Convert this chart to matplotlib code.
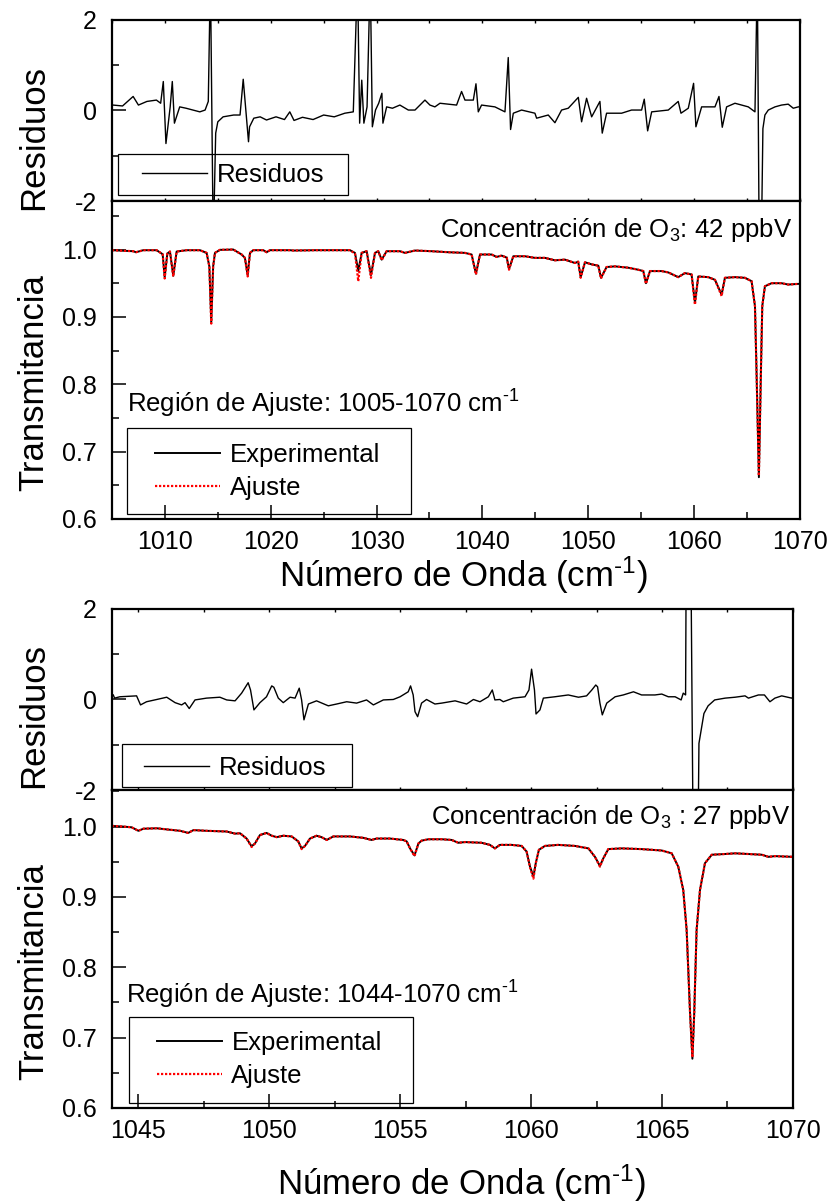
import matplotlib.pyplot as plt
from matplotlib.ticker import MultipleLocator, FormatStrFormatter
from matplotlib.patches import Rectangle
from matplotlib.lines import Line2D

plt.rcParams['font.family'] = ['Liberation Sans', 'DejaVu Sans']
plt.rcParams['mathtext.fontset'] = 'custom'
plt.rcParams['mathtext.rm'] = 'Liberation Sans'
plt.rcParams['mathtext.it'] = 'Liberation Sans:italic'
plt.rcParams['axes.unicode_minus'] = False

# ---- upper figure: fit region 1005-1070 cm-1 ----
top_wn = [1005.0, 1007.0, 1007.27, 1007.96, 1009.22, 1009.79, 1009.98, 1010.23, 1010.48, 1010.79,
          1011.11, 1012.05, 1013.31, 1013.94, 1014.2, 1014.38, 1014.56, 1014.73, 1015.2, 1016.46,
          1017.25, 1017.56, 1017.82, 1018.04, 1018.35, 1019.3, 1019.61, 1019.93, 1021.82, 1022.13,
          1024.34, 1025.91, 1027.48, 1027.96, 1028.27, 1028.59, 1029.06, 1029.47, 1029.85, 1030.16,
          1030.48, 1030.95, 1032.21, 1032.68, 1033.63, 1035.2, 1036.77, 1038.35, 1038.98, 1039.39,
          1039.77, 1040.87, 1041.34, 1041.81, 1042.3, 1042.51, 1042.92, 1044.02, 1044.96, 1045.91,
          1046.85, 1047.8, 1048.74, 1049.05, 1049.28, 1049.69, 1050.32, 1050.95, 1051.2, 1051.73,
          1052.52, 1053.78, 1054.72, 1055.2, 1055.45, 1055.83, 1056.93, 1057.56, 1058.5, 1059.13,
          1059.76, 1060.08, 1060.39, 1061.34, 1061.97, 1062.6, 1062.91, 1063.86, 1064.8, 1065.43,
          1065.75, 1065.9, 1066.12, 1066.31, 1066.44, 1066.69, 1067.32, 1068.26, 1068.89, 1069.84,
          1070.0]
top_exp = [0.999, 0.9975, 0.996, 0.999, 0.999, 0.993, 0.959, 0.994, 0.997, 0.961,
           0.997, 0.999, 0.999, 0.995, 0.975, 0.892, 0.975, 0.995, 0.9995, 1.0,
           0.9926, 0.9876, 0.962, 0.995, 0.999, 0.999, 0.996, 0.999, 0.999, 0.9985,
           0.999, 0.999, 0.999, 0.995, 0.968, 0.995, 0.9975, 0.962, 0.995, 0.9975,
           0.985, 0.9975, 0.9975, 0.995, 0.9985, 0.9975, 0.996, 0.995, 0.9926, 0.964,
           0.9926, 0.9926, 0.989, 0.991, 0.988, 0.971, 0.99, 0.99, 0.9876, 0.9876,
           0.984, 0.985, 0.98, 0.982, 0.959, 0.981, 0.978, 0.976, 0.958, 0.974,
           0.975, 0.973, 0.97, 0.968, 0.95, 0.968, 0.968, 0.966, 0.959, 0.965,
           0.963, 0.921, 0.96, 0.959, 0.955, 0.933, 0.958, 0.959, 0.958, 0.953,
           0.916, 0.817, 0.662, 0.817, 0.916, 0.9455, 0.95, 0.95, 0.948, 0.949,
           0.949]
top_fit = [0.999, 0.9975, 0.996, 0.999, 0.999, 0.993, 0.957, 0.994, 0.997, 0.960,
           0.997, 0.999, 0.999, 0.995, 0.975, 0.890, 0.975, 0.995, 0.9995, 1.0,
           0.9926, 0.9876, 0.960, 0.995, 0.999, 0.999, 0.996, 0.999, 0.999, 0.9985,
           0.999, 0.999, 0.999, 0.994, 0.953, 0.995, 0.9975, 0.958, 0.995, 0.9975,
           0.984, 0.9975, 0.9975, 0.995, 0.9985, 0.9975, 0.996, 0.995, 0.9926, 0.963,
           0.9926, 0.9926, 0.989, 0.991, 0.988, 0.970, 0.99, 0.99, 0.9876, 0.9876,
           0.984, 0.985, 0.98, 0.982, 0.958, 0.981, 0.978, 0.976, 0.957, 0.974,
           0.975, 0.973, 0.97, 0.968, 0.949, 0.968, 0.968, 0.966, 0.959, 0.965,
           0.963, 0.918, 0.96, 0.959, 0.955, 0.931, 0.958, 0.959, 0.958, 0.953,
           0.916, 0.817, 0.664, 0.817, 0.916, 0.9455, 0.95, 0.95, 0.948, 0.949,
           0.949]

top_res_wn = [1005.1, 1006.0, 1007.0, 1007.5, 1008.3, 1009.2, 1009.6, 1009.85, 1010.1, 1010.5,
              1010.7, 1010.9, 1011.4, 1012.0, 1013.3, 1013.8, 1014.1, 1014.3, 1014.57, 1014.8,
              1015.0, 1015.5, 1016.5, 1017.1, 1017.4, 1017.9, 1018.0, 1018.4, 1019.0, 1019.6,
              1020.5, 1021.3, 1021.8, 1022.2, 1023.0, 1024.0, 1025.0, 1026.0, 1027.0, 1027.8,
              1028.2, 1028.4, 1028.6, 1028.8, 1029.1, 1029.4, 1029.6, 1029.9, 1030.2, 1030.5,
              1030.6, 1030.95, 1031.5, 1032.2, 1033.0, 1033.63, 1034.57, 1035.04, 1035.51, 1035.99,
              1036.77, 1037.56, 1038.03, 1038.35, 1039.14, 1039.39, 1039.61, 1039.92, 1041.18, 1042.13,
              1042.44, 1042.66, 1042.92, 1043.7, 1044.96, 1045.12, 1046.22, 1046.85, 1047.48, 1048.11,
              1049.06, 1049.37, 1049.84, 1050.32, 1051.1, 1051.32, 1051.73, 1053.15, 1054.09, 1055.04,
              1055.29, 1055.61, 1055.99, 1057.56, 1058.5, 1058.76, 1059.45, 1059.95, 1060.17, 1060.71,
              1061.97, 1062.35, 1062.66, 1063.07, 1063.86, 1065.12, 1065.75, 1065.97, 1066.15, 1066.35,
              1066.5, 1066.69, 1067.01, 1067.64, 1068.26, 1068.89, 1069.37, 1069.84, 1070.0]
top_res = [0.12, 0.10, 0.31, 0.12, 0.20, 0.23, 0.16, 0.64, -0.73, 0.08,
           0.64, -0.28, 0.08, 0.05, -0.03, 0.01, 0.20, 3.0, -3.0, -0.5,
           -0.25, -0.14, -0.10, -0.10, 0.69, -0.69, -0.36, -0.17, -0.14, -0.21,
           -0.14, -0.20, -0.03, -0.22, -0.15, -0.20, -0.10, -0.14, -0.06, -0.03,
           3.0, -0.28, 0.67, -0.28, 0.08, 3.0, -0.36, 0.01, 0.16, 0.38,
           -0.28, 0.08, 0.05, 0.12, 0.01, 0.01, 0.23, 0.12, 0.08, 0.16,
           0.14, 0.12, 0.42, 0.23, 0.23, 0.59, -0.03, 0.12, 0.08, -0.03,
           1.17, -0.42, -0.06, 0.01, -0.06, -0.17, -0.10, -0.27, 0.01, 0.05,
           0.29, -0.25, 0.27, -0.14, 0.20, -0.50, -0.06, -0.06, 0.01, 0.01,
           0.25, -0.45, -0.03, 0.01, 0.20, -0.06, 0.05, 0.60, -0.36, 0.08,
           0.08, 0.31, -0.37, 0.08, 0.16, 0.08, -0.03, 3.0, -3.0, -3.0,
           -0.40, -0.10, 0.01, 0.08, 0.12, 0.14, 0.05, 0.08, 0.08]

# ---- lower figure: fit region 1044-1070 cm-1 ----
bot_wn = [1044.0, 1044.43, 1044.75, 1045.01, 1045.2, 1045.71, 1046.09, 1046.6, 1046.91, 1047.11,
          1047.61, 1048.38, 1048.7, 1048.89, 1049.14, 1049.33, 1049.46, 1049.65, 1049.9, 1050.1,
          1050.29, 1050.54, 1050.86, 1051.11, 1051.24, 1051.37, 1051.56, 1051.81, 1052.0, 1052.2,
          1052.45, 1053.09, 1053.6, 1053.91, 1054.1, 1054.61, 1055.12, 1055.25, 1055.38, 1055.55,
          1055.7, 1055.82, 1056.08, 1056.59, 1056.97, 1057.22, 1057.48, 1058.11, 1058.43, 1058.62,
          1058.81, 1059.26, 1059.64, 1059.83, 1059.96, 1060.09, 1060.18, 1060.3, 1060.53, 1061.04,
          1061.68, 1062.19, 1062.44, 1062.63, 1062.76, 1062.95, 1063.46, 1064.22, 1064.99, 1065.37,
          1065.62, 1065.81, 1065.94, 1066.07, 1066.16, 1066.23, 1066.32, 1066.45, 1066.64, 1066.9,
          1067.4, 1067.79, 1068.3, 1068.81, 1069.06, 1069.31, 1069.99]
bot_exp = [1.001, 1.0, 0.999, 0.994, 0.997, 0.9976, 0.996, 0.994, 0.991, 0.995,
           0.994, 0.993, 0.990, 0.9905, 0.983, 0.972, 0.976, 0.988, 0.991, 0.987,
           0.985, 0.987, 0.986, 0.979, 0.969, 0.9725, 0.983, 0.987, 0.985, 0.981,
           0.986, 0.986, 0.984, 0.981, 0.983, 0.983, 0.981, 0.979, 0.969, 0.959,
           0.976, 0.980, 0.982, 0.982, 0.981, 0.977, 0.978, 0.977, 0.974, 0.969,
           0.974, 0.974, 0.9725, 0.9645, 0.943, 0.929, 0.948, 0.967, 0.9725, 0.974,
           0.9725, 0.969, 0.957, 0.944, 0.955, 0.968, 0.969, 0.968, 0.966, 0.962,
           0.943, 0.910, 0.853, 0.735, 0.670, 0.735, 0.853, 0.910, 0.948, 0.960,
           0.961, 0.962, 0.961, 0.960, 0.957, 0.958, 0.957]
bot_fit = [1.001, 1.0, 0.999, 0.994, 0.997, 0.9976, 0.996, 0.994, 0.991, 0.995,
           0.994, 0.993, 0.990, 0.9905, 0.983, 0.971, 0.976, 0.988, 0.991, 0.987,
           0.985, 0.987, 0.986, 0.979, 0.968, 0.9725, 0.983, 0.987, 0.985, 0.981,
           0.986, 0.986, 0.984, 0.981, 0.983, 0.983, 0.981, 0.979, 0.969, 0.958,
           0.976, 0.980, 0.982, 0.982, 0.981, 0.977, 0.978, 0.977, 0.974, 0.969,
           0.974, 0.974, 0.9725, 0.9645, 0.942, 0.926, 0.948, 0.967, 0.9725, 0.974,
           0.9725, 0.969, 0.957, 0.943, 0.955, 0.968, 0.969, 0.968, 0.966, 0.962,
           0.943, 0.910, 0.853, 0.735, 0.672, 0.735, 0.853, 0.910, 0.948, 0.960,
           0.961, 0.962, 0.961, 0.960, 0.957, 0.958, 0.957]

bot_res_wn = [1044.05, 1044.1, 1044.3, 1044.94, 1045.09, 1045.32, 1045.71, 1046.09, 1046.41, 1046.66,
              1046.79, 1046.95, 1047.17, 1047.61, 1048.12, 1048.38, 1048.7, 1048.95, 1049.2, 1049.29,
              1049.42, 1049.65, 1049.9, 1050.1, 1050.18, 1050.35, 1050.54, 1050.8, 1050.99, 1051.15,
              1051.24, 1051.33, 1051.5, 1051.81, 1052.26, 1052.58, 1052.96, 1053.34, 1053.72, 1053.98,
              1054.36, 1054.74, 1055.0, 1055.31, 1055.4, 1055.5, 1055.57, 1055.67, 1055.82, 1056.01,
              1056.33, 1056.59, 1057.1, 1057.54, 1057.8, 1058.05, 1058.37, 1058.52, 1058.62, 1058.81,
              1058.94, 1059.32, 1059.77, 1059.92, 1060.02, 1060.13, 1060.19, 1060.34, 1060.47, 1060.91,
              1061.42, 1061.81, 1062.12, 1062.32, 1062.47, 1062.54, 1062.63, 1062.72, 1062.89, 1063.21,
              1063.52, 1063.91, 1064.22, 1064.73, 1064.99, 1065.24, 1065.5, 1065.73, 1065.81, 1065.9,
              1065.93, 1066.09, 1066.2, 1066.36, 1066.41, 1066.6, 1066.76, 1067.01, 1067.41, 1067.79,
              1068.17, 1068.3, 1068.68, 1068.91, 1069.12, 1069.31, 1069.57, 1069.95, 1070.0]
bot_res = [0.10, 0.03, 0.06, 0.08, -0.12, -0.05, 0.00, 0.05, -0.07, -0.12,
           -0.07, -0.20, -0.01, 0.03, 0.05, -0.01, -0.03, 0.14, 0.37, 0.21,
           -0.23, -0.07, 0.06, 0.30, 0.27, 0.03, -0.07, 0.05, 0.03, 0.25,
           -0.01, -0.45, -0.10, -0.03, -0.14, -0.10, -0.05, -0.08, -0.01, -0.12,
           -0.01, 0.00, 0.06, 0.17, 0.30, 0.10, -0.27, -0.38, -0.08, 0.00,
           -0.10, -0.08, -0.03, -0.10, 0.00, -0.05, 0.06, 0.21, -0.01, 0.00,
           -0.05, 0.03, 0.06, 0.21, 0.67, 0.21, -0.32, -0.23, 0.03, 0.06,
           0.10, 0.05, 0.08, 0.21, 0.32, 0.28, -0.08, -0.34, -0.08, 0.06,
           0.10, 0.17, 0.10, 0.10, 0.12, 0.06, 0.06, -0.01, 0.14, 0.10,
           4.0, 4.0, -4.0, -4.0, -0.97, -0.31, -0.14, -0.01, 0.03, 0.05,
           0.08, 0.03, 0.10, 0.10, -0.05, 0.03, 0.08, 0.03, 0.05]

FS_TICK = 18
FS_TEXT = 18.5
FS_LABEL = 25


def style(ax, xmaj, xmin, ymaj, ymin, yfmt, res=False):
    ax.xaxis.set_major_locator(MultipleLocator(xmaj))
    ax.xaxis.set_minor_locator(MultipleLocator(xmin))
    ax.yaxis.set_major_locator(MultipleLocator(ymaj))
    ax.yaxis.set_minor_locator(MultipleLocator(ymin))
    ax.yaxis.set_major_formatter(FormatStrFormatter(yfmt))
    ax.xaxis.set_major_formatter(FormatStrFormatter('%d'))
    ax.tick_params(axis='y', which='major', direction='in', length=10, width=1.1,
                   labelsize=FS_TICK, pad=11)
    ax.tick_params(axis='y', which='minor', direction='in', length=5, width=1.1)
    if res:
        ax.tick_params(axis='x', which='both', direction='in', length=2.5, width=1,
                       top=True, labelbottom=False)
    else:
        ax.tick_params(axis='x', which='major', direction='in', length=10, width=1.1,
                       labelsize=FS_TICK, pad=8)
        ax.tick_params(axis='x', which='minor', direction='in', length=5, width=1.1)
    for s in ax.spines.values():
        s.set_linewidth(1.6)


def legend_box(ax, rect, handle_xy, handles, labels, spacing=0.35):
    ax.add_patch(Rectangle(rect[:2], rect[2], rect[3], transform=ax.transAxes,
                           fill=False, lw=0.9, ec='black', clip_on=False, zorder=5))
    ax.legend(handles, labels, loc='center left', bbox_to_anchor=handle_xy,
              frameon=False, fontsize=FS_TEXT, handlelength=2.55, handletextpad=0.35,
              borderpad=0, borderaxespad=0, labelspacing=spacing)


def draw_pair(axr, axt, res_wn, res, wn, exp, fit, xlim, xmaj, xmin, ytop,
              region, conc, geo):
    axr.plot(res_wn, res, color='black', lw=1.0)
    axr.set_xlim(xlim)
    axr.set_ylim(-2, 2)
    style(axr, xmaj, xmin, 2, 1, '%d', res=True)
    axr.set_ylabel('Residuos', fontsize=FS_LABEL)
    axr.yaxis.set_label_coords(geo['ylab_x'], geo['res_ylab_y'])
    legend_box(axr, geo['res_rect'], geo['res_handle'],
               [Line2D([], [], color='black', lw=1.0)], ['Residuos'])

    axt.plot(wn, exp, color='black', lw=1.4, label='Experimental')
    axt.plot(wn, fit, color='red', lw=1.6, ls=(0, (1, 0.8)), label='Ajuste')
    axt.set_xlim(xlim)
    axt.set_ylim(0.6, ytop)
    style(axt, xmaj, xmin, 0.1, 0.05, '%.1f')
    axt.set_ylabel('Transmitancia', fontsize=FS_LABEL)
    axt.yaxis.set_label_coords(geo['ylab_x'], geo['tr_ylab_y'])
    axt.set_xlabel(r'Número de Onda (cm$^{\text{-1}}$)', fontsize=FS_LABEL)
    axt.xaxis.set_label_coords(geo['xlab_x'], geo['xlab_y'])
    h, l = axt.get_legend_handles_labels()
    legend_box(axt, geo['tr_rect'], geo['tr_handle'], h, l)
    axt.text(geo['region_xy'][0], geo['region_xy'][1], region, transform=axt.transAxes,
             fontsize=FS_TEXT, ha='left', va='baseline')
    axt.text(geo['conc_xy'][0], geo['conc_xy'][1], conc, transform=axt.transAxes,
             fontsize=FS_TEXT, ha='left', va='baseline', clip_on=True)


fig = plt.figure(figsize=(8.3, 12.03), dpi=100)

ax1r = fig.add_axes([0.1349, 0.8329, 0.8289, 0.1505])
ax1t = fig.add_axes([0.1349, 0.5686, 0.8289, 0.2643])
ax2r = fig.add_axes([0.1349, 0.3433, 0.8205, 0.1505])
ax2t = fig.add_axes([0.1349, 0.0790, 0.8205, 0.2643])

draw_pair(ax1r, ax1t, top_res_wn, top_res, top_wn, top_exp, top_fit,
          (1005, 1070), 10, 5, 1.072,
          r'Región de Ajuste: 1005-1070 cm$^{\text{-1}}$',
          r'Concentración de O$_3$: 42 ppbV',
          dict(ylab_x=-0.09, res_ylab_y=0.35, tr_ylab_y=0.43,
               xlab_x=0.51, xlab_y=-0.113,
               res_rect=(0.0087, 0.0331, 0.3343, 0.2265), res_handle=(0.0436, 0.1436),
               tr_rect=(0.0218, 0.0157, 0.4128, 0.2704), tr_handle=(0.0625, 0.1494),
               region_xy=(0.0218, 0.334), conc_xy=(0.4767, 0.888)))

draw_pair(ax2r, ax2t, bot_res_wn, bot_res, bot_wn, bot_exp, bot_fit,
          (1044, 1070), 5, 2.5, 1.052,
          r'Región de Ajuste: 1044-1070 cm$^{\text{-1}}$',
          r'Concentración de O$_3$ : 27 ppbV',
          dict(ylab_x=-0.091, res_ylab_y=0.41, tr_ylab_y=0.43,
               xlab_x=0.513, xlab_y=-0.173,
               res_rect=(0.0147, 0.0166, 0.3377, 0.2376), res_handle=(0.047, 0.1215),
               tr_rect=(0.025, 0.0157, 0.417, 0.2704), tr_handle=(0.066, 0.151),
               region_xy=(0.0206, 0.329), conc_xy=(0.468, 0.893)))

fig.savefig('out.png', dpi=100)
